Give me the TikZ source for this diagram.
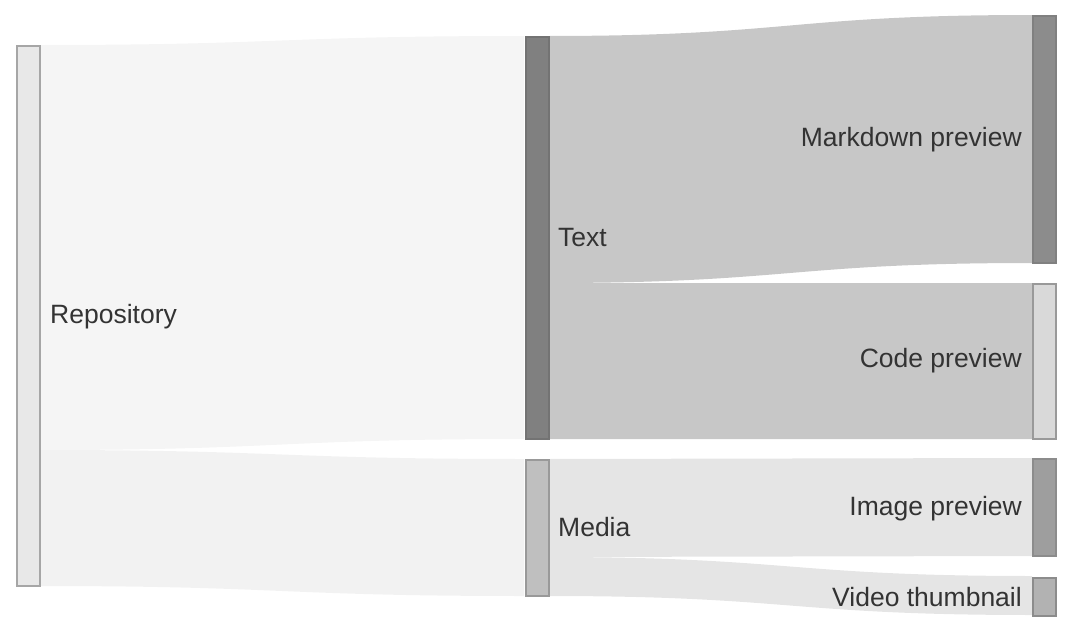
\documentclass[tikz,border=0pt]{standalone}
\usepackage{fontspec}
\setmainfont{Liberation Sans}
\newcommand{\band}[7]{% x1,y1t,y1b,x2,y2t,y2b,color
  \pgfmathsetmacro{\xm}{(#1+#4)/2}
  \fill[#7] (#1,#2) .. controls (\xm,#2) and (\xm,#5) .. (#4,#5) -- (#4,#6) .. controls (\xm,#6) and (\xm,#3) .. (#1,#3) -- cycle;}
\begin{document}
\begin{tikzpicture}[x=1pt,y=-1pt,
  bar/.style={line width=1.5pt,inner sep=0pt,anchor=north west,minimum width=23pt},
  lab/.style={text=black!80,font=\fontsize{26.5}{30}\selectfont,inner sep=0pt}]
\useasboundingbox (0,0) rectangle (1072,632);
\band{40}{45}{450}{524}{36}{439}{black!4}
\band{40}{450}{586}{524}{459}{596}{black!5}
\band{548}{36}{283}{1032}{15}{263}{black!22}
\band{548}{283}{439}{1032}{283}{439}{black!22}
\band{548}{459}{557}{1032}{458}{556}{black!10}
\band{548}{557}{596}{1032}{576}{615}{black!10}
\node[bar,fill=black!9,draw=black!35,minimum height=540pt] (repo) at (16,45) {};
\node[bar,fill=black!50,draw=black!55,minimum height=402pt] (text) at (525,36) {};
\node[bar,fill=black!25,draw=black!40,minimum height=136pt] (media) at (525,459) {};
\node[bar,fill=black!45,draw=black!50,minimum height=247pt] (md) at (1032,15) {};
\node[bar,fill=black!15,draw=black!40,minimum height=155pt] (code) at (1032,283) {};
\node[bar,fill=black!38,draw=black!45,minimum height=97pt] (img) at (1032,458) {};
\node[bar,fill=black!30,draw=black!45,minimum height=38pt] (vid) at (1032,577) {};
\node[lab,anchor=west] (lrepo) at (50,317) {Repository};
\node[lab,anchor=west] (ltext) at (558,238) {Text};
\node[lab,anchor=west] (lmedia) at (558,527) {Media};
\node[lab,anchor=east] (lmd) at (1022,140) {Markdown preview};
\node[lab,anchor=east] (lcode) at (1022,361) {Code preview};
\node[lab,anchor=east] (limg) at (1022,509) {Image preview};
\node[lab,anchor=east] (lvid) at (1022,597) {Video thumbnail};
\end{tikzpicture}
\end{document}
